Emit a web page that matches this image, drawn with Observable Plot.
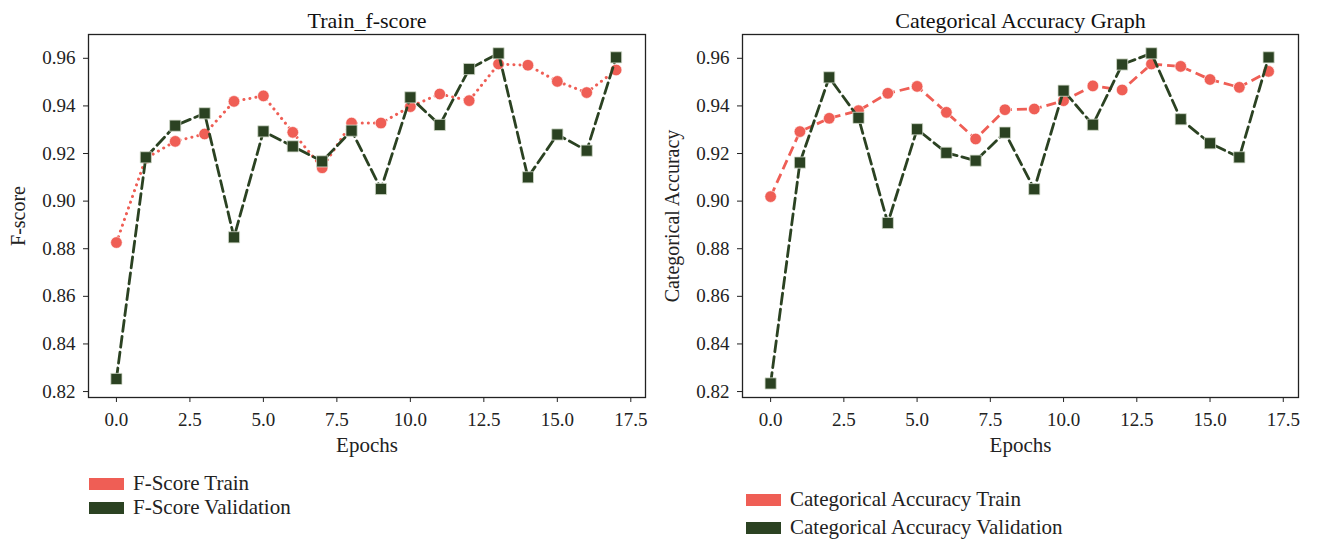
<!DOCTYPE html>
<html>
<head>
<meta charset="utf-8">
<script src="https://cdn.jsdelivr.net/npm/d3@7"></script>
<script src="https://cdn.jsdelivr.net/npm/@observablehq/plot@0.6"></script>
<style>
  html, body { margin: 0; padding: 0; background: #fff; }
  #wrap { position: relative; width: 1318px; height: 545px; overflow: hidden; font-family: "Liberation Serif", serif; color: #222; }
  .panel { position: absolute; top: 0; }
  .legend { position: absolute; font-size: 21px; line-height: 1; }
  .legend .row { position: absolute; white-space: nowrap; }
  .legend .sw { position: absolute; left: 0; width: 35px; height: 12px; }
  .legend .lab { position: absolute; left: 44px; }
</style>
</head>
<body>
<div id="wrap"></div>
<script>
// ---- data ----
const epochs = [0, 1, 2, 3, 4, 5, 6, 7, 8, 9, 10, 11, 12, 13, 14, 15, 16, 17];
const fscoreTrain = [0.8826, 0.9180, 0.9251, 0.9282, 0.9419, 0.9442, 0.9289, 0.9140, 0.9328, 0.9328, 0.9397, 0.9450, 0.9422, 0.9576, 0.9571, 0.9503, 0.9456, 0.9551];
const fscoreVal   = [0.8253, 0.9184, 0.9317, 0.9369, 0.8848, 0.9293, 0.9230, 0.9167, 0.9296, 0.9051, 0.9436, 0.9320, 0.9555, 0.9621, 0.9100, 0.9280, 0.9212, 0.9604];
const accTrain    = [0.9019, 0.9292, 0.9348, 0.9380, 0.9453, 0.9482, 0.9373, 0.9261, 0.9384, 0.9387, 0.9422, 0.9484, 0.9467, 0.9576, 0.9566, 0.9511, 0.9478, 0.9545];
const accVal      = [0.8234, 0.9162, 0.9520, 0.9350, 0.8908, 0.9302, 0.9203, 0.9170, 0.9288, 0.9050, 0.9464, 0.9321, 0.9574, 0.9621, 0.9344, 0.9243, 0.9184, 0.9604];
const yTicks = [0.82, 0.84, 0.86, 0.88, 0.90, 0.92, 0.94, 0.96];
const xTicks = [0, 2.5, 5, 7.5, 10, 12.5, 15, 17.5];
const titles = ["Train_f-score", "Categorical Accuracy Graph"];
const yLabels = ["F-score", "Categorical Accuracy"];
const xLabel = "Epochs";
const legendLeft = ["F-Score Train", "F-Score Validation"];
const legendRight = ["Categorical Accuracy Train", "Categorical Accuracy Validation"];

const RED = "#EF5E55";
const GREEN = "#2B4222";
const FONT = "Liberation Serif, serif";

function panel(opts) {
  const trainData = epochs.map((e, i) => ({e, v: opts.train[i]}));
  const valData = epochs.map((e, i) => ({e, v: opts.val[i]}));
  return Plot.plot({
    width: opts.width,
    height: 470,
    marginLeft: opts.marginLeft,
    marginRight: opts.marginRight,
    marginTop: 34,
    marginBottom: 73,
    style: {fontFamily: FONT, fontSize: "19px", color: "#222", background: "transparent"},
    x: {domain: opts.xDomain},
    y: {domain: [0.8175, 0.970]},
    marks: [
      Plot.axisX({ticks: xTicks, tickFormat: d3.format(".1f"), tickSize: 5, tickPadding: 10, label: null, fontSize: 19, stroke: "#222"}),
      Plot.axisY({ticks: yTicks, tickFormat: d3.format(".2f"), tickSize: 5, tickPadding: 8, label: null, fontSize: 19, stroke: "#222"}),
      Plot.frame({stroke: "#222", strokeWidth: 1.3}),
      Plot.line(trainData, {x: "e", y: "v", stroke: RED, strokeWidth: opts.trainWidth, strokeDasharray: opts.trainDash, strokeLinecap: opts.trainCap}),
      Plot.dot(trainData, {x: "e", y: "v", r: 5.8, fill: RED, stroke: "#fff", strokeWidth: 0.6}),
      Plot.line(valData, {x: "e", y: "v", stroke: GREEN, strokeWidth: 2.8, strokeDasharray: "11,5"}),
      Plot.dot(valData, {x: "e", y: "v", symbol: "square", r: 6.3, fill: GREEN, stroke: "#d4dccd", strokeWidth: 0.8}),
      Plot.text([opts.title], {text: d => d, frameAnchor: "top", lineAnchor: "bottom", dy: -7, fontSize: 22, fill: "#111"}),
      Plot.text([xLabel], {text: d => d, frameAnchor: "bottom", lineAnchor: "bottom", dy: 54, fontSize: 21, fill: "#222"}),
      Plot.text([opts.ylabel], {text: d => d, frameAnchor: "left", textAnchor: "middle", dx: -70, rotate: -90, fontSize: 20, fill: "#222"})
    ]
  });
}

const wrap = document.getElementById("wrap");

const left = panel({
  train: fscoreTrain, val: fscoreVal, title: titles[0], ylabel: yLabels[0],
  width: 658, marginLeft: 88, marginRight: 13, xDomain: [-0.95, 18.0],
  trainDash: "0.1,6", trainWidth: 3, trainCap: "round"
});
left.classList.add("panel");
left.style.left = "0px";
wrap.appendChild(left);

const right = panel({
  train: accTrain, val: accVal, title: titles[1], ylabel: yLabels[1],
  width: 660, marginLeft: 84, marginRight: 20, xDomain: [-0.96, 18.02],
  trainDash: "10,5", trainWidth: 2.8, trainCap: "butt"
});
right.classList.add("panel");
right.style.left = "658px";
wrap.appendChild(right);

function legend(labels, x, y, gap) {
  const div = document.createElement("div");
  div.className = "legend";
  div.style.left = x + "px";
  div.style.top = y + "px";
  [RED, GREEN].forEach((c, i) => {
    const row = document.createElement("div");
    row.className = "row";
    row.style.top = (i * gap) + "px";
    const sw = document.createElement("div");
    sw.className = "sw";
    sw.style.background = c;
    sw.style.top = "0px";
    const lab = document.createElement("div");
    lab.className = "lab";
    lab.style.top = "-5px";
    lab.textContent = labels[i];
    row.appendChild(sw);
    row.appendChild(lab);
    div.appendChild(row);
  });
  wrap.appendChild(div);
}
legend(legendLeft, 89, 478, 24);
legend(legendRight, 746, 494, 28);
</script>
</body>
</html>
